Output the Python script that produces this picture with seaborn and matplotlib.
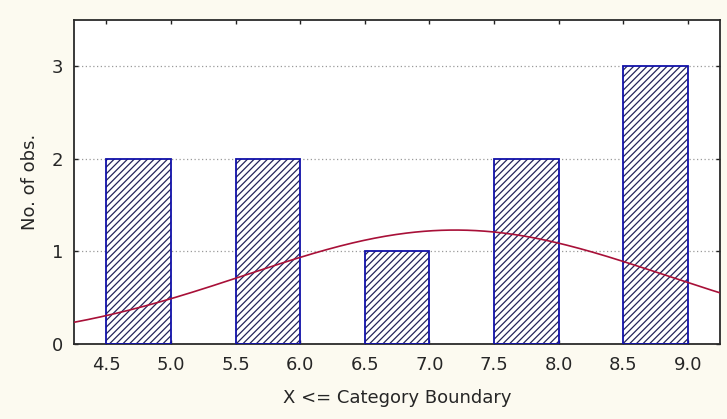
import numpy as np
import pandas as pd
import matplotlib
matplotlib.use("Agg")
import matplotlib.pyplot as plt
import seaborn as sns

# Histogram: upper category boundaries and counts per 0.5-wide class
bin_edges = [4.5, 5.0, 5.5, 6.0, 6.5, 7.0, 7.5, 8.0, 8.5, 9.0]
bin_mids = [4.75, 5.25, 5.75, 6.25, 6.75, 7.25, 7.75, 8.25, 8.75]
counts = [2, 0, 2, 0, 1, 0, 2, 0, 3]
x_ticks = [4.5, 5.0, 5.5, 6.0, 6.5, 7.0, 7.5, 8.0, 8.5, 9.0]
y_ticks = [0, 1, 2, 3]

# Fitted normal curve (expected number of observations per class)
n_obs = 10
class_width = 0.5
fit_mean = 7.2
fit_sd = 1.62

sns.set_theme(style="white")
plt.rcParams["font.family"] = ["DejaVu Sans"]
plt.rcParams["hatch.linewidth"] = 0.9

fig = plt.figure(figsize=(7.27, 4.19), dpi=100, facecolor="#fcfaf0")
ax = fig.add_axes([0.1018, 0.179, 0.8886, 0.773])
ax.set_facecolor("white")

df = pd.DataFrame({"x": bin_mids, "n": counts})

# hatched fill
sns.histplot(data=df, x="x", weights="n", bins=bin_edges, ax=ax,
             color="white", edgecolor="#24245a", linewidth=0, hatch="/////",
             alpha=1, zorder=2)
n_fill = len(ax.patches)
# bar outlines
sns.histplot(data=df, x="x", weights="n", bins=bin_edges, ax=ax,
             fill=False, linewidth=1.3, zorder=3)
for i, p in enumerate(ax.patches):
    if i >= n_fill:
        p.set_edgecolor("#1010a8")
        p.set_alpha(1)
    if p.get_height() == 0:
        p.set_visible(False)

xs = np.linspace(4.25, 9.25, 300)
expected = n_obs * class_width * np.exp(-0.5 * ((xs - fit_mean) / fit_sd) ** 2) / (fit_sd * np.sqrt(2 * np.pi))
curve = pd.DataFrame({"x": xs, "y": expected})
sns.lineplot(data=curve, x="x", y="y", ax=ax, color="#a81038", linewidth=1.2, zorder=4)

ax.set_xlim(4.25, 9.25)
ax.set_ylim(0, 3.5)
ax.set_xticks(x_ticks)
ax.set_xticklabels([f"{v:.1f}" for v in x_ticks])
ax.set_yticks(y_ticks)
ax.yaxis.grid(True, linestyle=(0, (1, 2)), color="#9a9a9a", linewidth=0.9)
ax.xaxis.grid(False)
ax.set_axisbelow(True)

ax.tick_params(axis="both", which="both", direction="in", length=3, width=1,
               color="#222222", top=True, right=True, bottom=True, left=True,
               labelsize=13, labelcolor="#262626")
ax.tick_params(axis="x", pad=9)
ax.tick_params(axis="y", pad=8)
for s in ax.spines.values():
    s.set_visible(True)
    s.set_color("#2a2a2a")
    s.set_linewidth(1.3)

ax.set_xlabel("X <= Category Boundary", fontsize=13, color="#262626", va="center")
ax.set_ylabel("No. of obs.", fontsize=13, color="#262626", va="center")
ax.xaxis.set_label_coords(0.5, -0.167)
ax.yaxis.set_label_coords(-0.068, 0.5)

fig.savefig("out.png", dpi=100, facecolor=fig.get_facecolor())
